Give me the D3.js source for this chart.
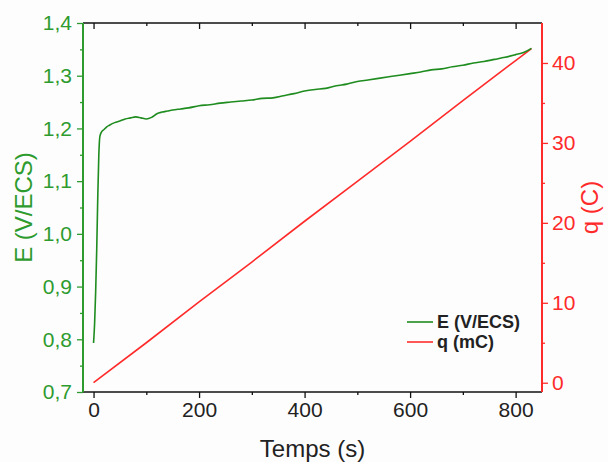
<!DOCTYPE html>
<html><head><meta charset="utf-8">
<script src="https://cdn.jsdelivr.net/npm/d3@7"></script>
<style>body{margin:0;background:#fff}svg{display:block;font-family:"Liberation Sans",Arial,sans-serif}</style>
</head><body><svg id="c" width="608" height="462"></svg>
<script>
const timeE = [0,2,4,6,8,10,12,15,20,25,30,40,50,60,70,80,90,100,110,120,130,140,150,165,180,200,220,240,260,280,300,320,340,360,380,400,420,440,460,480,500,520,540,560,580,600,620,640,660,680,700,720,740,760,780,800,815,830];
const potentialE = [0.793,0.83,0.89,0.97,1.07,1.15,1.185,1.193,1.198,1.203,1.206,1.211,1.214,1.218,1.220,1.222,1.220,1.218,1.221,1.228,1.231,1.233,1.235,1.237,1.239,1.243,1.245,1.248,1.250,1.252,1.254,1.257,1.258,1.262,1.266,1.271,1.274,1.276,1.281,1.284,1.289,1.292,1.295,1.298,1.301,1.304,1.307,1.311,1.313,1.317,1.320,1.324,1.327,1.331,1.335,1.340,1.344,1.352];
const timeQ = [0,100,200,300,400,500,600,700,800,830];
const chargeQ = [0,5.0,10.1,15.1,20.2,25.2,30.2,35.3,40.3,41.8];
const xTicks = [0,200,400,600,800];
const xMinor = [100,300,500,700];
const leftTicks = [0.7,0.8,0.9,1.0,1.1,1.2,1.3,1.4];
const leftMinor = [0.75,0.85,0.95,1.05,1.15,1.25,1.35];
const rightTicks = [0,10,20,30,40];
const rightMinor = [5,15,25,35];
const legendLabels = ["E (V/ECS)","q (mC)"];
const xTitle = "Temps (s)", yLeftTitle = "E (V/ECS)", yRightTitle = "q (C)";

const GREEN = "#2e9b2e", GREENLINE = "#1f8c1f", RED = "#ff2b2b", BLACK = "#111";
const L = 83, R = 542, T = 23, B = 392;
const svg = d3.select("#c");
svg.append("rect").attr("width",608).attr("height",462).attr("fill","#fdfdfd");

const x = d3.scaleLinear().domain([-20,850]).range([L,R]);
const yL = d3.scaleLinear().domain([0.7,1.4]).range([B,T]);
const yR = d3.scaleLinear().domain([-1.16,45]).range([B,T]);
const comma = v => d3.format(".1f")(v).replace(".",",");

function styleAxis(g, color, size){
  g.select(".domain").remove();
  g.selectAll("line").attr("stroke",color).attr("stroke-width",1.3);
  g.selectAll("text").attr("fill",color).attr("font-size",size);
}
// bottom axis
const gb = svg.append("g").attr("transform",`translate(0,${B})`);
gb.call(d3.axisBottom(x).tickValues(xTicks).tickSize(6).tickPadding(4));
styleAxis(gb, BLACK, 21);
gb.selectAll("text").attr("fill","#222");
const gbm = svg.append("g").attr("transform",`translate(0,${B})`);
gbm.call(d3.axisBottom(x).tickValues(xMinor).tickSize(3).tickFormat(""));
styleAxis(gbm, BLACK, 0);
// top axis (ticks inward)
const gt = svg.append("g").attr("transform",`translate(0,${T})`);
gt.call(d3.axisTop(x).tickValues(xTicks).tickSize(-6).tickFormat(""));
styleAxis(gt, BLACK, 0);
const gtm = svg.append("g").attr("transform",`translate(0,${T})`);
gtm.call(d3.axisTop(x).tickValues(xMinor).tickSize(-3).tickFormat(""));
styleAxis(gtm, BLACK, 0);
// left axis
const gl = svg.append("g").attr("transform",`translate(${L},0)`);
gl.call(d3.axisLeft(yL).tickValues(leftTicks).tickFormat(comma).tickSize(6).tickPadding(5));
styleAxis(gl, GREEN, 21);
const glm = svg.append("g").attr("transform",`translate(${L},0)`);
glm.call(d3.axisLeft(yL).tickValues(leftMinor).tickSize(3).tickFormat(""));
styleAxis(glm, GREEN, 0);
// right axis
const gr = svg.append("g").attr("transform",`translate(${R},0)`);
gr.call(d3.axisRight(yR).tickValues(rightTicks).tickSize(6).tickPadding(4));
styleAxis(gr, RED, 21);
const grm = svg.append("g").attr("transform",`translate(${R},0)`);
grm.call(d3.axisRight(yR).tickValues(rightMinor).tickSize(3).tickFormat(""));
styleAxis(grm, RED, 0);

// frame lines
svg.append("line").attr("x1",L).attr("x2",R).attr("y1",T).attr("y2",T).attr("stroke",BLACK).attr("stroke-width",1.5);
svg.append("line").attr("x1",L).attr("x2",R).attr("y1",B).attr("y2",B).attr("stroke",BLACK).attr("stroke-width",1.5);
svg.append("line").attr("x1",L).attr("x2",L).attr("y1",T).attr("y2",B).attr("stroke",GREEN).attr("stroke-width",2);
svg.append("line").attr("x1",R).attr("x2",R).attr("y1",T).attr("y2",B).attr("stroke",RED).attr("stroke-width",2);

// series
const qLine = d3.line().x((d,i)=>x(timeQ[i])).y(d=>yR(d));
svg.append("path").attr("d",qLine(chargeQ)).attr("fill","none").attr("stroke",RED).attr("stroke-width",1.6);
const eLine = d3.line().x((d,i)=>x(timeE[i])).y(d=>yL(d)).curve(d3.curveMonotoneX);
svg.append("path").attr("d",eLine(potentialE)).attr("fill","none").attr("stroke",GREENLINE).attr("stroke-width",1.6);

// titles
svg.append("text").attr("x",(L+R)/2).attr("y",457).attr("text-anchor","middle").attr("font-size",24).attr("fill","#222").text(xTitle);
svg.append("text").attr("transform",`translate(32,${(T+B)/2}) rotate(-90)`).attr("text-anchor","middle").attr("font-size",24).attr("fill",GREEN).text(yLeftTitle);
svg.append("text").attr("transform",`translate(598,${(T+B)/2}) rotate(-90)`).attr("text-anchor","middle").attr("font-size",24).attr("fill",RED).text(yRightTitle);

// legend
const legColors = [GREENLINE, RED];
legendLabels.forEach((lab,i)=>{
  const yy = 322 + i*20;
  svg.append("line").attr("x1",407).attr("x2",433).attr("y1",yy).attr("y2",yy).attr("stroke",legColors[i]).attr("stroke-width",1.6);
  svg.append("text").attr("x",437).attr("y",yy+6).attr("font-size",18).attr("font-weight","bold").attr("fill","#222").text(lab);
});
</script></body></html>
